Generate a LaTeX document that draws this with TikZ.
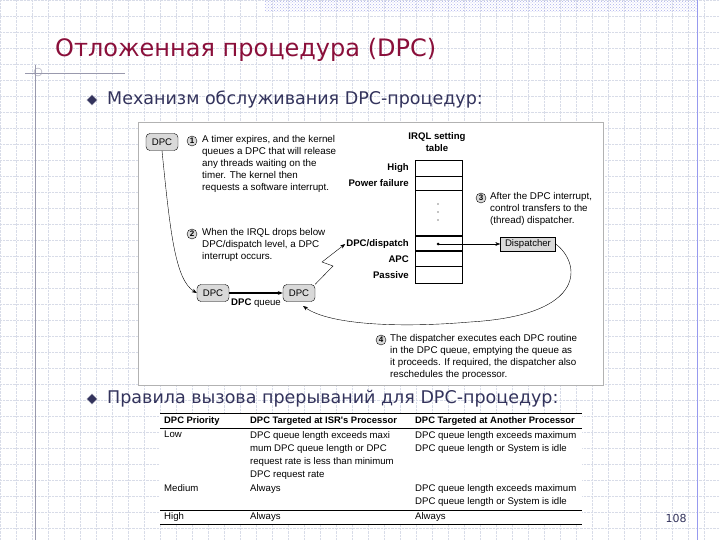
\documentclass[tikz,border=0pt]{standalone}
\usepackage{fontspec}
\setmainfont{DejaVu Sans}
\newfontfamily\dg{Liberation Sans}
\usetikzlibrary{arrows.meta,patterns,shapes.geometric}
\definecolor{ttl}{HTML}{8A0F3A}
\definecolor{txt}{HTML}{33335C}
\definecolor{grd}{HTML}{D8DCE8}
\definecolor{bx}{HTML}{D9D9D9}
\begin{document}
\begin{tikzpicture}[x=1pt,y=-1pt,
  dtext/.style={font=\dg\fontsize{9.8}{12}\selectfont,align=left,anchor=north west,inner sep=0pt},
  lbl/.style={font=\dg\bfseries\fontsize{9.6}{12}\selectfont,anchor=east,inner sep=1pt},
  rbox/.style={draw,rounded corners=4pt,fill=bx,minimum width=32pt,minimum height=17pt,font=\dg\fontsize{9.6}{10}\selectfont,inner sep=1pt},
  num/.style={circle,draw,fill=bx,inner sep=0pt,minimum size=10pt,font=\dg\bfseries\fontsize{8}{8}\selectfont},
  ttext/.style={font=\dg\fontsize{9.6}{13}\selectfont,align=left,anchor=north west,inner sep=0pt},
  thead/.style={font=\dg\bfseries\fontsize{9.4}{13}\selectfont,anchor=north west,inner sep=0pt},
  arr/.style={-{Stealth[length=5pt]}}]
\useasboundingbox (0,0) rectangle (720,540);
\fill[white] (0,0) rectangle (720,540);
\foreach \i in {0,16,...,720} \draw[grd,densely dotted,line width=0.4pt] (\i,0) -- (\i,540);
\foreach \i in {0,16,...,540} \draw[grd,densely dotted,line width=0.4pt] (0,\i) -- (720,\i);
\fill[pattern=crosshatch dots,pattern color=grd!80!blue] (265,0) rectangle (697,12);
\draw[grd!70!blue] (697,0) -- (697,540);
\draw[txt!50] (25,73) -- (125,73);
\draw[txt!50] (35,65) -- (35,540);
\draw[txt!50] (38,72) circle (4);
\node[font=\fontsize{24}{26}\selectfont,text=ttl,anchor=west,inner sep=0pt] (title) at (55,50) {Отложенная процедура (DPC)};
\node[diamond,fill=txt,draw=txt!50,inner sep=2.6pt] (b1) at (92,100) {};
\node[font=\fontsize{17.5}{20}\selectfont,text=txt,anchor=west,inner sep=0pt] (t1) at (107,100) {Механизм обслуживания DPC-процедур:};
\node[diamond,fill=txt,draw=txt!50,inner sep=2.6pt] (b2) at (92,399) {};
\node[font=\fontsize{17.5}{20}\selectfont,text=txt,anchor=west,inner sep=0pt] (t2) at (107,399) {Правила вызова прерываний для DPC-процедур:};
% diagram frame
\draw[gray!60,fill=white] (138,122) rectangle (603,385);
\node[rbox] (dtop) at (162,142) {DPC};
\node[num] (n1) at (192,141) {1};
\node[dtext] (tx1) at (202,135) {A timer expires, and the kernel\\queues a DPC that will release\\any threads waiting on the\\timer. The kernel then\\requests a software interrupt.};
\node[font=\dg\bfseries\fontsize{9.6}{12}\selectfont,align=center] (irql) at (437,142) {IRQL setting\\table};
\foreach \a/\b in {160/176,176/190,190/236,236/250,251/266,266/283} \draw[thick] (415,\a) rectangle (462,\b);
\draw[line width=1.6pt] (415,236) -- (462,236) (415,250.5) -- (462,250.5);
\foreach \yy in {204,212,220} \fill (438,\yy) circle (0.7);
\node[lbl] (lh) at (410,168) {High};
\node[lbl] (lp) at (410,183) {Power failure};
\node[lbl] (ld) at (410,244) {DPC/dispatch};
\node[lbl] (la) at (410,259) {APC};
\node[lbl] (lpa) at (410,275) {Passive};
\node[num] (n3) at (481,198) {3};
\node[dtext] (tx3) at (490,192) {After the DPC interrupt,\\control transfers to the\\(thread) dispatcher.};
\node[draw,fill=bx,minimum width=55pt,minimum height=14pt,font=\dg\fontsize{9.6}{10}\selectfont,inner sep=1pt] (disp) at (528,244) {Dispatcher};
\coordinate (dot) at (438,244);
\fill (dot) circle (1.5);
\draw[arr] (dot) -- (disp.west);
\node[num] (n2) at (192,234) {2};
\node[dtext] (tx2) at (202,228) {When the IRQL drops below\\DPC/dispatch level, a DPC\\interrupt occurs.};
\node[rbox] (q1) at (213,293) {DPC};
\node[rbox] (q2) at (299,293) {DPC};
\draw[arr,line width=1.3pt] (q1) -- (q2);
\node[font=\dg\bfseries\fontsize{9.6}{10}\selectfont,inner sep=0pt] (ql) at (256,303) {DPC \textmd{queue}};
\draw[arr] (q2.north east) -- (333,266) -- (322,262) -- (ld.west);
\draw[arr] (dtop.south) .. controls (170,230) and (175,280) .. (q1.west);
\draw[arr] (disp.east) .. controls (580,262) and (590,315) .. (470,322) .. controls (400,328) and (330,325) .. (303,306);
\node[num] (n4) at (381,340) {4};
\node[dtext] (tx4) at (390,334) {The dispatcher executes each DPC routine\\in the DPC queue, emptying the queue as\\it proceeds. If required, the dispatcher also\\reschedules the processor.};
% table
\fill[white] (160,413) rectangle (582,524);
\draw[line width=1pt] (160,413) -- (582,413);
\draw[thick] (160,428) -- (582,428);
\draw (160,510) -- (582,510);
\draw[thick] (160,524) -- (582,524);
\node[thead] (h1) at (164,416) {DPC Priority};
\node[thead] (h2) at (250,416) {DPC Targeted at ISR's Processor};
\node[thead] (h3) at (415,416) {DPC Targeted at Another Processor};
\node[ttext] (r1) at (164,431) {Low};
\node[ttext] (r1b) at (250,431) {DPC queue length exceeds maxi\\mum DPC queue length or DPC\\request rate is less than minimum\\DPC request rate};
\node[ttext] (r1c) at (415,431) {DPC queue length exceeds maximum\\DPC queue length or System is idle};
\node[ttext] (r2) at (164,484) {Medium};
\node[ttext] (r2b) at (250,484) {Always};
\node[ttext] (r2c) at (415,484) {DPC queue length exceeds maximum\\DPC queue length or System is idle};
\node[ttext] (r3) at (164,512) {High};
\node[ttext] (r3b) at (250,512) {Always};
\node[ttext] (r3c) at (415,512) {Always};
\node[font=\fontsize{11}{12}\selectfont,text=txt] (pg) at (676,518) {108};
\end{tikzpicture}
\end{document}
